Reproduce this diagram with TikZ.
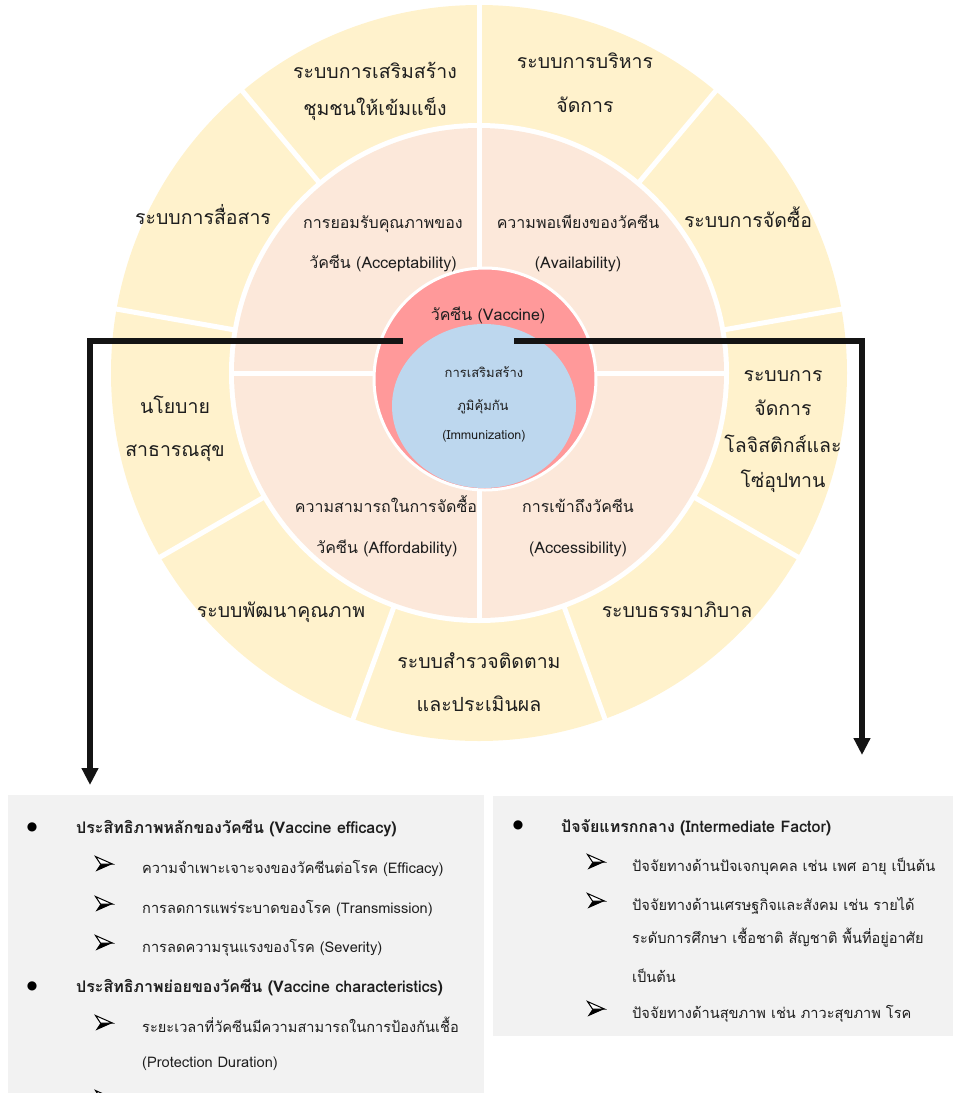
\documentclass[tikz,border=0pt]{standalone}
\usepackage{fontspec}
\setmainfont[Script=Thai]{Loma}
\newfontfamily\dejavu{DejaVu Sans}
\usetikzlibrary{arrows.meta,calc}
\definecolor{outerc}{HTML}{FFF2CC}
\definecolor{midc}{HTML}{FCE8DA}
\definecolor{redc}{HTML}{FF999A}
\definecolor{bluec}{HTML}{BDD7EE}
\definecolor{boxc}{HTML}{F2F2F2}
\definecolor{txt}{HTML}{1E1E1E}
\begin{document}
\begin{tikzpicture}[x=1pt,y=-1pt,
  lbl/.style={anchor=base, inner sep=0pt, text=txt},
  outerlbl/.style={lbl, font=\fontsize{19.5}{19.5}\selectfont},
  midlbl/.style={lbl, font=\fontsize{16}{16}\selectfont},
  boxtxt/.style={anchor=base west, inner sep=0pt, text=txt, font=\fontsize{14.6}{14.6}\selectfont},
  boxhead/.style={boxtxt, font=\fontsize{16}{16}\selectfont\bfseries},
  dotbul/.style={inner sep=0pt, text=black, font=\dejavu\fontsize{12}{12}\selectfont},
  arrbul/.pic={
    \fill[black] (8.5,0) -- (-8.5,7.5) -- (-3.5,0) -- cycle;
    \draw[black, line width=1pt, fill=white, line join=miter] (8.5,0) -- (-8.5,-7.5) -- (-3.5,0) -- cycle;
  },
  gap/.style={white, line width=5pt},
  conn/.style={line width=6pt, draw=black!92, -{Triangle[length=17pt,width=16pt]}}
]
\useasboundingbox (0,0) rectangle (954,1093);
\clip (0,0) rectangle (954,1093);
\coordinate (C) at (479,373);
% outer ring
\fill[outerc] (C) circle (368pt);
\foreach \a in {90,50,10,-30,-70,-110,-150,170,130}
  \draw[gap] ($(C)+(\a:240pt)$) -- ($(C)+(\a:372pt)$);
\fill[white] (C) circle (250pt);
\fill[midc] (C) circle (245pt);
\foreach \a in {0,90,180,270}
  \draw[gap] (C) -- ($(C)+(\a:247pt)$);
% centre
\filldraw[fill=redc, draw=white, line width=3pt] (485,379) circle (111pt);
\fill[bluec] (484,406) ellipse [x radius=92pt, y radius=82pt];

% outer labels
\node[outerlbl] (o1a) at (375,78) {ระบบการเสริมสร้าง};
\node[outerlbl] (o1b) at (375,115) {ชุมชนให้เข้มแข็ง};
\node[outerlbl] (o2a) at (585,68) {ระบบการบริหาร};
\node[outerlbl] (o2b) at (585,112) {จัดการ};
\node[outerlbl] (o3) at (748,227) {ระบบการจัดซื้อ};
\node[outerlbl] (o4a) at (783,381) {ระบบการ};
\node[outerlbl] (o4b) at (783,415) {จัดการ};
\node[outerlbl] (o4c) at (783,452) {โลจิสติกส์และ};
\node[outerlbl] (o4d) at (783,487) {โซ่อุปทาน};
\node[outerlbl] (o5) at (677,617) {ระบบธรรมาภิบาล};
\node[outerlbl] (o6a) at (479,668) {ระบบสำรวจติดตาม};
\node[outerlbl] (o6b) at (479,711) {และประเมินผล};
\node[outerlbl] (o7) at (281,617) {ระบบพัฒนาคุณภาพ};
\node[outerlbl] (o8a) at (175,413) {นโยบาย};
\node[outerlbl] (o8b) at (175,456) {สาธารณสุข};
\node[outerlbl] (o9) at (203,224) {ระบบการสื่อสาร};

% middle labels
\node[midlbl] (m1a) at (383,228) {การยอมรับคุณภาพของ};
\node[midlbl] (m1b) at (383,268) {วัคซีน (Acceptability)};
\node[midlbl] (m2a) at (578,228) {ความพอเพียงของวัคซีน};
\node[midlbl] (m2b) at (578,268) {(Availability)};
\node[midlbl] (m3a) at (386,512) {ความสามารถในการจัดซื้อ};
\node[midlbl] (m3b) at (387,553) {วัคซีน (Affordability)};
\node[midlbl] (m4a) at (578,512) {การเข้าถึงวัคซีน};
\node[midlbl] (m4b) at (578,553) {(Accessibility)};

% centre labels
\node[midlbl] (vac) at (488,320) {วัคซีน (Vaccine)};
\node[lbl, font=\fontsize{13}{13}\selectfont] (imm1) at (484,377) {การเสริมสร้าง};
\node[lbl, font=\fontsize{13}{13}\selectfont] (imm2) at (483,410) {ภูมิคุ้มกัน};
\node[lbl, font=\fontsize{12.5}{12.5}\selectfont] (imm3) at (484,439) {(Immunization)};

% connectors
\coordinate (ls) at (403,341);
\coordinate (lc) at (90,341);
\coordinate (le) at (90,785);
\coordinate (rs) at (514,341);
\coordinate (rc) at (862,341);
\coordinate (re) at (862,755);
\draw[conn] (ls) -- (lc) -- (le);
\draw[conn] (rs) -- (rc) -- (re);

% boxes
\fill[boxc] (8,795) rectangle (484,1093);
\fill[boxc] (493,796) rectangle (953,1036);

% left box
\node[dotbul] (lb1) at (32,827) {●};
\node[boxhead] (lh1) at (76,833) {ประสิทธิภาพหลักของวัคซีน (Vaccine efficacy)};
\pic at (104,864) {arrbul};
\node[boxtxt] (lt1) at (142,873) {ความจำเพาะเจาะจงของวัคซีนต่อโรค (Efficacy)};
\pic at (104,904) {arrbul};
\node[boxtxt] (lt2) at (142,913) {การลดการแพร่ระบาดของโรค (Transmission)};
\pic at (104,943) {arrbul};
\node[boxtxt] (lt3) at (142,952) {การลดความรุนแรงของโรค (Severity)};
\node[dotbul] (lb2) at (32,986) {●};
\node[boxhead] (lh2) at (76,992) {ประสิทธิภาพย่อยของวัคซีน (Vaccine characteristics)};
\pic at (104,1023) {arrbul};
\node[boxtxt] (lt4) at (142,1032) {ระยะเวลาที่วัคซีนมีความสามารถในการป้องกันเชื้อ};
\node[boxtxt] (lt5) at (142,1067) {(Protection Duration)};
\pic at (104,1098) {arrbul};

% right box
\node[dotbul] (rb1) at (518,825) {●};
\node[boxhead] (rh1) at (561,832) {ปัจจัยแทรกกลาง (Intermediate Factor)};
\pic at (596,862) {arrbul};
\node[boxtxt] (rt1) at (632,871) {ปัจจัยทางด้านปัจเจกบุคคล เช่น เพศ อายุ เป็นต้น};
\pic at (596,901) {arrbul};
\node[boxtxt] (rt2) at (632,910) {ปัจจัยทางด้านเศรษฐกิจและสังคม เช่น รายได้};
\node[boxtxt] (rt3) at (632,943) {ระดับการศึกษา เชื้อชาติ สัญชาติ พื้นที่อยู่อาศัย};
\node[boxtxt] (rt4) at (632,982) {เป็นต้น};
\pic at (596,1009) {arrbul};
\node[boxtxt] (rt5) at (632,1018) {ปัจจัยทางด้านสุขภาพ เช่น ภาวะสุขภาพ โรค};
\end{tikzpicture}
\end{document}
